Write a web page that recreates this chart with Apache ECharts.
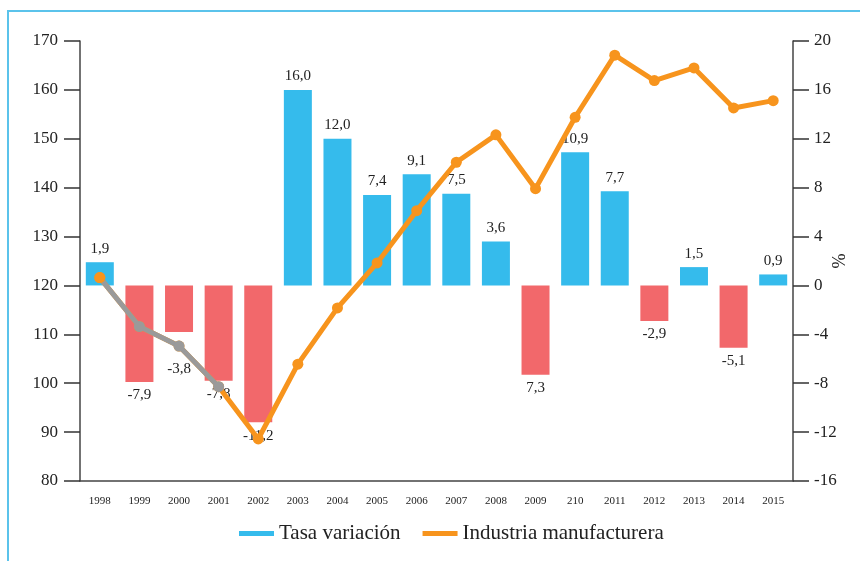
<!DOCTYPE html>
<html>
<head>
<meta charset="utf-8">
<script src="https://cdn.jsdelivr.net/npm/echarts@6/dist/echarts.min.js"></script>
<style>
  html, body { margin: 0; padding: 0; background: #fff; }
  #chart { width: 860px; height: 561px; }
</style>
</head>
<body>
<div id="chart"></div>
<script>
  const years = ['1998', '1999', '2000', '2001', '2002', '2003', '2004', '2005', '2006',
    '2007', '2008', '2009', '210', '2011', '2012', '2013', '2014', '2015'];
  // tasa de variacion (%), eje derecho
  const tasa = [1.9, -7.9, -3.8, -7.8, -11.2, 16.0, 12.0, 7.4, 9.1, 7.5, 3.6, -7.3, 10.9, 7.7, -2.9, 1.5, -5.1, 0.9];
  // etiquetas tal como aparecen en el grafico
  const tasaLabels = ['1,9', '-7,9', '-3,8', '-7,8', '-11,2', '16,0', '12,0', '7,4', '9,1', '7,5', '3,6', '7,3',
    '10,9', '7,7', '-2,9', '1,5', '-5,1', '0,9'];
  // indice industria manufacturera, eje izquierdo
  const industria = [121.6, 111.6, 107.6, 99.3, 88.6, 103.9, 115.4, 124.6, 135.3, 145.2, 150.8, 139.8,
    154.4, 167.1, 161.9, 164.5, 156.3, 157.8];
  // tramo gris 1998-2001
  const tramoGris = [121.6, 111.6, 107.6, 99.3];

  const BLUE = '#35BBEC';
  const RED = '#F2686B';
  const ORANGE = '#F7941D';
  const GRAY = '#9a9a9a';
  const FONT = '"Liberation Serif", "DejaVu Serif", serif';

  const chart = echarts.init(document.getElementById('chart'));

  const barData = tasa.map(function (v, i) {
    const item = { value: v };
    if (v < 0) item.itemStyle = { color: RED };
    item.label = { position: v < 0 ? 'bottom' : 'top' };
    if (i === 2) item.label.distance = 30; // la etiqueta -3,8 queda bajo la linea gris
    return item;
  });

  const grayData = years.map(function (y, i) {
    if (i >= tramoGris.length) return '-';
    if (i === 0) return { value: tramoGris[i], itemStyle: { color: ORANGE }, symbolSize: 11 };
    return tramoGris[i];
  });

  const option = {
    animation: false,
    textStyle: { fontFamily: FONT },
    graphic: [{
      type: 'polyline',
      shape: { points: [[8, 561], [8, 11], [860, 11]] },
      style: { stroke: '#5BC3EB', lineWidth: 2, fill: null }
    }],
    grid: { left: 80, right: 67, top: 41, bottom: 80, outerBoundsMode: 'none', containLabel: false },
    legend: {
      data: ['Tasa variación', 'Industria manufacturera'],
      bottom: 12,
      left: 234,
      icon: 'rect',
      itemWidth: 35,
      itemHeight: 5,
      itemGap: 22,
      textStyle: { fontFamily: FONT, fontSize: 21, color: '#222' }
    },
    xAxis: {
      type: 'category',
      data: years,
      axisLine: { onZero: false, lineStyle: { color: '#444', width: 1.5 } },
      axisTick: { show: false },
      axisLabel: { margin: 15, fontSize: 11, color: '#222', fontFamily: FONT, interval: 0 }
    },
    yAxis: [{
      type: 'value',
      min: 80,
      max: 170,
      interval: 10,
      position: 'left',
      splitLine: { show: false },
      axisLine: { show: true, lineStyle: { color: '#444', width: 1.5 } },
      axisTick: { show: true, length: 16, lineStyle: { color: '#333', width: 1.5 } },
      axisLabel: { margin: 22, fontSize: 17, color: '#222', fontFamily: FONT }
    }, {
      type: 'value',
      min: -16,
      max: 20,
      interval: 4,
      position: 'right',
      name: '%',
      nameLocation: 'middle',
      nameRotate: -90,
      nameGap: 35,
      nameMoveOverlap: false,
      nameTextStyle: { fontSize: 18, color: '#222', fontFamily: FONT },
      splitLine: { show: false },
      axisLine: { show: true, lineStyle: { color: '#444', width: 1.5 } },
      axisTick: { show: true, length: 16, lineStyle: { color: '#333', width: 1.5 } },
      axisLabel: { margin: 21, fontSize: 17, color: '#222', fontFamily: FONT }
    }],
    series: [{
      name: 'Tasa variación',
      type: 'bar',
      yAxisIndex: 1,
      barWidth: 28,
      itemStyle: { color: BLUE },
      label: {
        show: true,
        distance: 6,
        fontSize: 15,
        color: '#222',
        fontFamily: FONT,
        formatter: function (p) { return tasaLabels[p.dataIndex]; }
      },
      data: barData,
      z: 2
    }, {
      name: 'Industria manufacturera',
      type: 'line',
      yAxisIndex: 0,
      symbol: 'circle',
      symbolSize: 11,
      lineStyle: { color: ORANGE, width: 5 },
      itemStyle: { color: ORANGE },
      data: industria,
      z: 3
    }, {
      name: 'gris',
      type: 'line',
      yAxisIndex: 0,
      symbol: 'circle',
      symbolSize: 11,
      lineStyle: { color: GRAY, width: 5 },
      itemStyle: { color: GRAY },
      data: grayData,
      z: 4
    }]
  };

  chart.setOption(option);
</script>
</body>
</html>
